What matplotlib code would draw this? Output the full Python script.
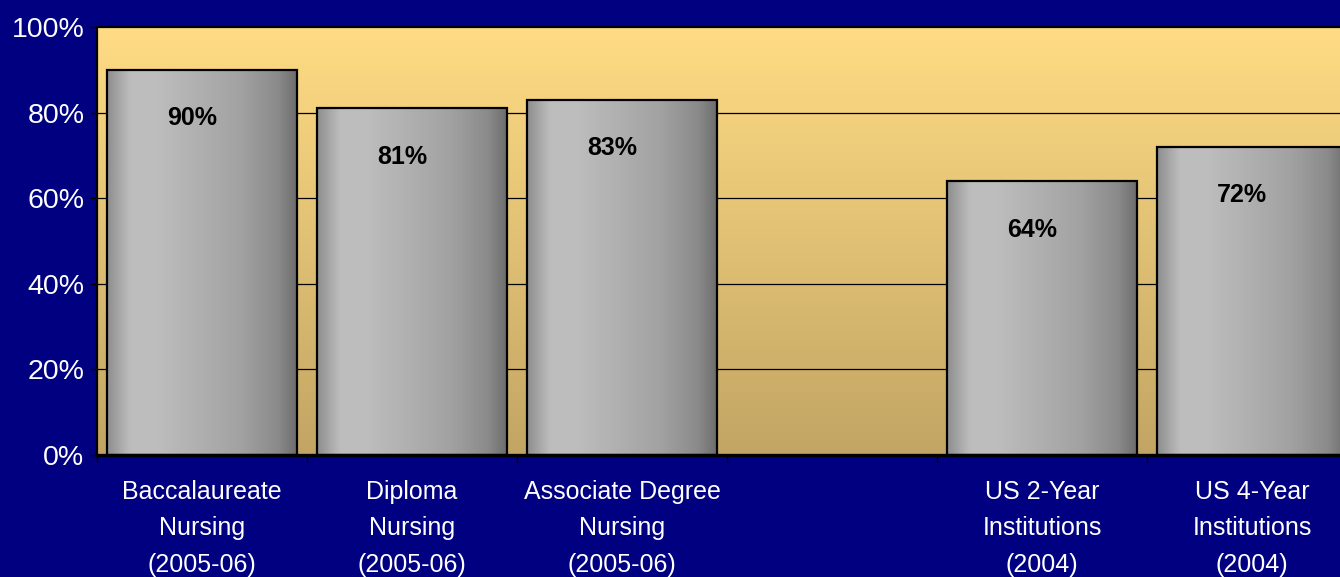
import numpy as np
import matplotlib
matplotlib.use('Agg')
import matplotlib.pyplot as plt
from matplotlib.colors import LinearSegmentedColormap

# --- data ---
categories = ['Baccalaureate\nNursing\n(2005-06)',
              'Diploma\nNursing\n(2005-06)',
              'Associate Degree\nNursing\n(2005-06)',
              '',
              'US 2-Year\nInstitutions\n(2004)',
              'US 4-Year\nInstitutions\n(2004)']
values = [90, 81, 83, None, 64, 72]
yticks = [0, 20, 40, 60, 80, 100]

NAVY = '#000080'
plt.rcParams['font.family'] = ['Liberation Sans', 'DejaVu Sans']

fig = plt.figure(figsize=(13.4, 5.77), dpi=100, facecolor=NAVY)
ax = fig.add_axes([97 / 1340, 122 / 577, 1260 / 1340, 428 / 577])
ax.set_xlim(-0.5, len(categories) - 0.5)
ax.set_ylim(0, 100)

# plot-area background: vertical gradient yellow -> tan
bg = LinearSegmentedColormap.from_list('bg', ['#C2A564', '#FFDC84'])
ax.imshow(np.linspace(0, 1, 256).reshape(-1, 1), cmap=bg, aspect='auto',
          origin='lower', extent=[-0.5, len(categories) - 0.5, 0, 100],
          zorder=0)

for y in yticks[1:-1]:
    ax.axhline(y, color='black', linewidth=0.9, zorder=1)

# bars with horizontal gray gradient
gray = LinearSegmentedColormap.from_list(
    'gray', [(0.0, '#8E8E8E'), (0.12, '#BDBDBD'), (0.25, '#BEBEBE'),
             (0.7, '#A2A2A2'), (0.9, '#8A8A8A'), (1.0, '#6C6C6C')])
xs = [i for i, v in enumerate(values) if v is not None]
hs = [v for v in values if v is not None]
bars = ax.bar(xs, hs, width=0.905, facecolor='none', edgecolor='black',
              linewidth=1.6, zorder=3)
for b, v in zip(bars, hs):
    x0, w = b.get_x(), b.get_width()
    im = ax.imshow(np.linspace(0, 1, 256).reshape(1, -1), cmap=gray,
                   aspect='auto', extent=[x0, x0 + w, 0, v], zorder=2)
    im.set_clip_path(b)
    ax.annotate(f'{v}%', (b.get_x() + w / 2, v), xytext=(-7, -35),
                textcoords='offset points', ha='center', va='center',
                fontsize=18, fontweight='bold', color='black', zorder=4)

ax.set_xlim(-0.5, len(categories) - 0.5)
ax.set_ylim(0, 100)

# axes styling
for s in ax.spines.values():
    s.set_color('black')
    s.set_linewidth(1.6)
ax.spines['bottom'].set_linewidth(2.4)

ax.set_yticks(yticks)
ax.set_yticklabels([f'{t}%' for t in yticks])
ax.tick_params(axis='y', colors='black', labelcolor='white', labelsize=20.5,
               length=5, width=1, pad=4)

ax.set_xticks(range(len(categories)))
ax.set_xticklabels(categories, linespacing=1.65)
ax.set_xticks(np.arange(-0.5, len(categories)), minor=True)
ax.tick_params(axis='x', which='major', length=0, labelcolor='white',
               labelsize=18, pad=18)
ax.tick_params(axis='x', which='minor', length=5, width=1, color='black')

fig.savefig('out.png', dpi=100, facecolor=NAVY)
